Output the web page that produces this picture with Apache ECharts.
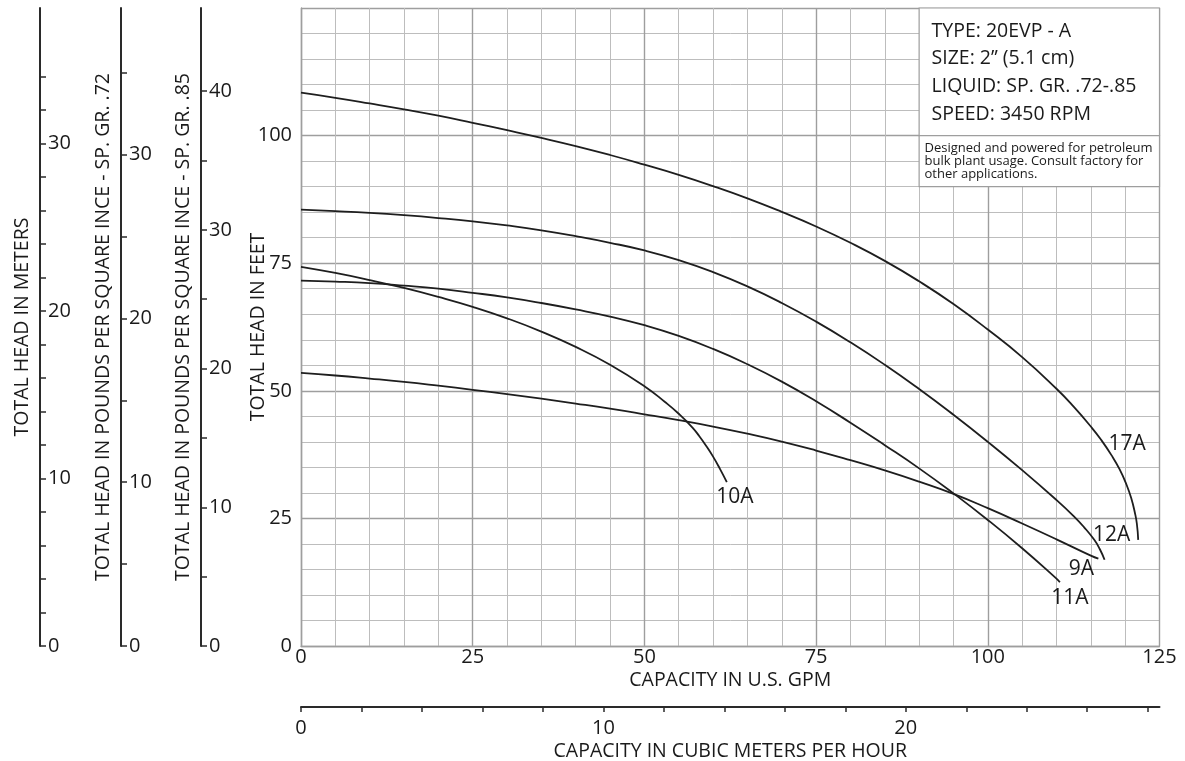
<!DOCTYPE html>
<html><head><meta charset="utf-8">
<script src="https://cdn.jsdelivr.net/npm/echarts@6/dist/echarts.min.js"></script>
<style>html,body{margin:0;padding:0;background:#fff}#c{width:1185px;height:761px}</style>
</head><body><div id="c"></div>
<script>
// ---- data (capacity in U.S. GPM, total head in feet) ----
const curve17A = [[0,108.4],[5,107.4],[10,106.3],[15,105.15],[20,103.9],[25,102.5],[30,101.05],[35,99.55],[40,97.95],[45,96.2],[50,94.3],[55,92.3],[60,90.1],[65,87.7],[70,85.05],[75,82.2],[80,79.0],[85,75.45],[90,71.45],[95,67.0],[100,62.0],[105,56.6],[110,50.4],[112.5,46.9],[115,43.0],[116.5,40.4],[118,37.4],[119.2,34.6],[120.2,31.6],[120.9,28.9],[121.4,26.2],[121.7,24.0],[121.9,20.8]];
const curve12A = [[0,85.5],[5,85.2],[10,84.85],[15,84.4],[20,83.85],[25,83.2],[30,82.4],[35,81.45],[40,80.3],[45,79.0],[50,77.5],[55,75.6],[60,73.25],[65,70.45],[70,67.2],[75,63.55],[80,59.5],[85,55.1],[90,50.35],[95,45.3],[100,40.0],[105,34.45],[110,28.6],[112.5,25.45],[114,23.3],[115.5,20.8],[116.3,19.0],[117,16.9]];
const curve10A = [[0,74.3],[5,73.1],[10,71.7],[15,70.15],[20,68.4],[25,66.45],[30,64.2],[35,61.6],[40,58.6],[45,55.1],[50,50.9],[53,47.8],[55,45.5],[57,42.8],[58,41.1],[59,39.2],[60,37.1],[61,34.7],[62,32.1]];
const curve11A = [[0,71.6],[5,71.4],[10,71.1],[15,70.6],[20,70.0],[25,69.2],[30,68.3],[35,67.2],[40,65.95],[45,64.55],[50,62.85],[55,60.75],[60,58.2],[65,55.2],[70,51.8],[75,47.95],[80,43.75],[85,39.35],[90,34.8],[95,29.9],[100,24.7],[105,19.15],[110,13.2],[110.5,12.5]];
const curve9A = [[0,53.5],[5,53.0],[10,52.4],[15,51.75],[20,51.0],[25,50.2],[30,49.35],[35,48.45],[40,47.5],[45,46.5],[50,45.4],[55,44.25],[60,43.0],[65,41.6],[70,40.05],[75,38.3],[80,36.4],[85,34.4],[90,32.2],[95,29.8],[100,27.0],[105,24.0],[110,20.9],[115,17.7],[116.1,17.1]];

// ---- axis ticks / labels ----
const gpmMax = 125, feetMax = 125;
const meterTicks = [0,2,4,6,8,10,12,14,16,18,20,22,24,26,28,30,32,34];
const meterLabels = [0,10,20,30];
const psi72Ticks = [0,5,10,15,20,25,30,35];
const psi72Labels = [0,10,20,30];
const psi85Ticks = [0,5,10,15,20,25,30,35,40];
const psi85Labels = [0,10,20,30,40];
const m3hTicks = [0,2,4,6,8,10,12,14,16,18,20,22,24,26,28];
const m3hLabels = [0,10,20];
const feetLabels = [0,25,50,75,100];
const infoLines = ['TYPE: 20EVP - A','SIZE: 2\u201D (5.1 cm)','LIQUID: SP. GR. .72-.85','SPEED: 3450 RPM'];
const noteLines = ['Designed and powered for petroleum','bulk plant usage. Consult factory for','other applications.'];

// unit conversions for secondary scales
const meterMax = feetMax * 0.3048;
const psi72Max = feetMax * 0.72 / 2.31;
const psi85Max = feetMax * 0.85 / 2.31;
const m3hMax = gpmMax / 4.4029;

const FONT = 'Open Sans';
const TXT = '#1a1a1a';
const AX = '#2a2a2a';
const MAJOR = '#9e9e9e';
const MINOR = '#bdbdbd';

const labelOffsets = {'17A':[-11,-96],'12A':[7,-25],'10A':[8,15],'11A':[10,16],'9A':[-17,10]};

function sideAxis(offset, max, ticks, labels, name, gap) {
  return {
    type:'value', position:'left', offset:offset, min:0, max:max,
    axisLine:{show:true, onZero:false, lineStyle:{color:AX, width:2}},
    axisTick:{show:true, inside:true, length:6, customValues:ticks, lineStyle:{color:AX, width:1.5}},
    axisLabel:{show:true, inside:true, margin:8, customValues:labels, color:TXT, fontSize:20, fontFamily:FONT},
    splitLine:{show:false}, minorSplitLine:{show:false},
    name:name, nameLocation:'middle', nameRotate:90, nameGap:gap,
    nameTextStyle:{color:TXT, fontSize:19.5, fontFamily:FONT}
  };
}

function curveSeries(name, data) {
  const pts = data.map((p, i) => {
    if (i < data.length - 1) return p;
    return {value:p, symbol:'circle', symbolSize:0.01,
      label:{show:true, formatter:name, position:'inside', offset:labelOffsets[name],
        color:TXT, fontSize:21, fontFamily:FONT}};
  });
  return {
    type:'line', name:name, data:pts, smooth:0.5, symbol:'none', showSymbol:true,
    lineStyle:{color:'#1e1e1e', width:1.8}, silent:true, z:3
  };
}

const chart = echarts.init(document.getElementById('c'), null, {renderer:'canvas'});
const series = [
  curveSeries('17A', curve17A),
  curveSeries('12A', curve12A),
  curveSeries('10A', curve10A),
  curveSeries('11A', curve11A),
  curveSeries('9A', curve9A)
];
series.push({
  type:'line', name:'box', data:[], silent:true, z:4,
  markArea:{
    silent:true,
    data:[
      [{xAxis:90, yAxis:100,
        itemStyle:{color:'#ffffff', borderColor:MAJOR, borderWidth:1.2},
        label:{show:true, position:'insideTopLeft', distance:0, padding:[10,0,0,13],
          formatter:infoLines.join('\n'), color:TXT, fontSize:19.5, lineHeight:27.6, fontFamily:FONT}},
       {xAxis:125, yAxis:125}],
      [{xAxis:90, yAxis:90,
        itemStyle:{color:'#ffffff', borderColor:MAJOR, borderWidth:1.2},
        label:{show:true, position:'insideTopLeft', distance:0, padding:[7,0,0,6],
          formatter:noteLines.join('\n'), color:TXT, fontSize:13, lineHeight:13, fontFamily:FONT}},
       {xAxis:125, yAxis:100}]
    ]
  }
});

chart.setOption({
  animation:false,
  backgroundColor:'#ffffff',
  textStyle:{fontFamily:FONT},
  grid:{left:301, right:25.5, top:8, bottom:115, containLabel:false, outerBoundsMode:'none'},
  xAxis:[
    {type:'value', min:0, max:gpmMax, interval:25, position:'bottom',
     axisLine:{show:true, onZero:false, lineStyle:{color:MAJOR, width:1.4}},
     axisTick:{show:false},
     axisLabel:{color:TXT, fontSize:20, fontFamily:FONT, margin:1},
     splitLine:{show:true, lineStyle:{color:MAJOR, width:1.4}},
     minorTick:{show:false, splitNumber:5},
     minorSplitLine:{show:true, lineStyle:{color:MINOR, width:1}},
     name:'CAPACITY IN U.S. GPM', nameLocation:'middle', nameGap:24, nameMoveOverlap:false,
     nameTextStyle:{color:TXT, fontSize:19.5, fontFamily:FONT}},
    {type:'value', min:0, max:m3hMax, position:'bottom', offset:61,
     axisLine:{show:true, onZero:false, lineStyle:{color:AX, width:2}},
     axisTick:{show:true, length:5, customValues:m3hTicks, lineStyle:{color:AX, width:1.5}},
     axisLabel:{show:true, customValues:m3hLabels, color:TXT, fontSize:20, fontFamily:FONT, margin:11},
     splitLine:{show:false}, minorSplitLine:{show:false},
     name:'CAPACITY IN CUBIC METERS PER HOUR', nameLocation:'middle', nameGap:34, nameMoveOverlap:false,
     nameTextStyle:{color:TXT, fontSize:19.5, fontFamily:FONT}}
  ],
  yAxis:[
    {type:'value', min:0, max:feetMax, interval:25, position:'left',
     axisLine:{show:true, onZero:false, lineStyle:{color:MAJOR, width:1.4}},
     axisTick:{show:false},
     axisLabel:{color:TXT, fontSize:20, fontFamily:FONT, margin:9, customValues:feetLabels},
     splitLine:{show:true, lineStyle:{color:MAJOR, width:1.4}},
     minorTick:{show:false, splitNumber:5},
     minorSplitLine:{show:true, lineStyle:{color:MINOR, width:1}},
     name:'TOTAL HEAD IN FEET', nameLocation:'middle', nameRotate:90, nameGap:33, nameMoveOverlap:false,
     nameTextStyle:{color:TXT, fontSize:19.5, fontFamily:FONT}},
    sideAxis(100, psi85Max, psi85Ticks, psi85Labels, 'TOTAL HEAD IN POUNDS PER SQUARE INCE - SP. GR. .85', 8),
    sideAxis(180, psi72Max, psi72Ticks, psi72Labels, 'TOTAL HEAD IN POUNDS PER SQUARE INCE - SP. GR. .72', 8),
    sideAxis(261, meterMax, meterTicks, meterLabels, 'TOTAL HEAD IN METERS', 7.5)
  ],
  series: series.map(s => Object.assign({xAxisIndex:0, yAxisIndex:0}, s))
});
</script>
</body></html>
